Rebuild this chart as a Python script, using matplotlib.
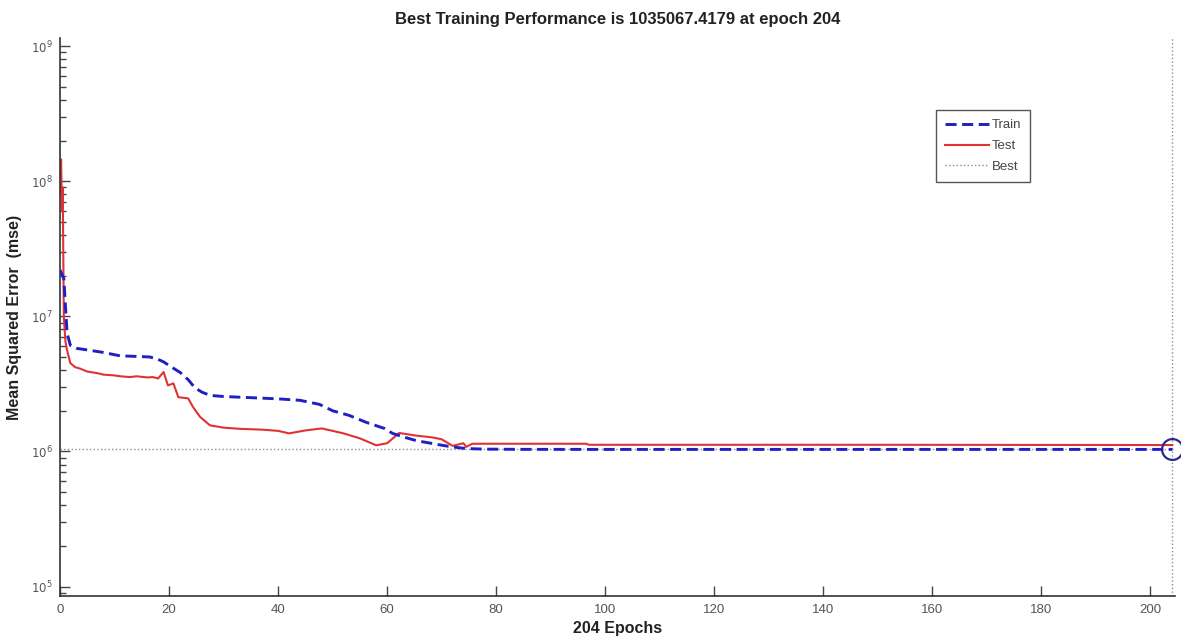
import matplotlib
matplotlib.use("Agg")
import matplotlib.pyplot as plt
from matplotlib.ticker import LogLocator, NullFormatter, FixedLocator

plt.rcParams['font.family'] = ['Liberation Sans', 'DejaVu Sans']

# ---- data ----
train_epochs = [0, 0.7, 1.3, 1.9, 3, 5.5, 8, 11, 14, 16.5, 18, 19, 20.5, 22, 23.5, 24.7, 26, 27.5,
                30, 35, 40, 44, 47.6, 50, 53, 56.2, 59.5, 61, 63, 65.4, 68, 70.1, 72,
                74.5, 78, 85, 100, 150, 204]
train_mse = [2.2e7, 1.9e7, 7.5e6, 6.1e6, 5.8e6, 5.6e6, 5.4e6, 5.1e6, 5.05e6, 5.0e6, 4.8e6, 4.6e6,
             4.2e6, 3.85e6, 3.4e6, 2.97e6, 2.75e6, 2.6e6,
             2.55e6, 2.5e6, 2.45e6, 2.39e6, 2.23e6, 2.0e6, 1.85e6, 1.64e6, 1.48e6, 1.36e6, 1.28e6,
             1.2e6, 1.15e6, 1.11e6, 1.08e6,
             1.05e6, 1.04e6, 1.036e6, 1.035e6, 1.035e6, 1.035067e6]

test_epochs = [0, 0.2, 0.35, 0.5, 0.7, 1.0, 1.3, 1.9, 2.8, 3.7, 5, 6.8, 8, 9.8, 11, 12.9, 14, 16, 17,
               18, 19, 19.8, 20.8, 21.7, 23.5, 24.4, 25.7, 27.5, 30, 33, 37, 40, 42, 45, 48, 50,
               52, 55, 58, 60, 62.2, 65.3, 68.3, 70, 72, 74, 74.5, 75.6, 80, 96.5, 97, 150, 204]
test_mse = [8.0e7, 1.45e8, 6.0e7, 9.0e7, 1.0e7, 6.5e6, 5.6e6, 4.5e6, 4.2e6, 4.1e6, 3.9e6, 3.8e6,
            3.7e6, 3.66e6, 3.6e6, 3.55e6, 3.6e6, 3.53e6, 3.55e6,
            3.47e6, 3.87e6, 3.08e6, 3.19e6, 2.52e6, 2.47e6, 2.13e6, 1.8e6, 1.56e6, 1.5e6, 1.47e6,
            1.45e6, 1.42e6, 1.36e6, 1.43e6, 1.48e6, 1.42e6,
            1.36e6, 1.25e6, 1.11e6, 1.15e6, 1.37e6, 1.31e6, 1.27e6, 1.23e6, 1.10e6, 1.15e6,
            1.08e6, 1.14e6, 1.14e6, 1.14e6, 1.12e6, 1.12e6, 1.115e6]

best_epoch = 204
best_perf = 1035067.4179

x_ticks = [0, 20, 40, 60, 80, 100, 120, 140, 160, 180, 200]
y_ticks = [1e5, 1e6, 1e7, 1e8, 1e9]
y_tick_labels = ['$10^5$', '$10^6$', '$10^7$', '$10^8$', '$10^9$']

title = f"Best Training Performance is {best_perf:.4f} at epoch {best_epoch}"

# ---- figure ----
W, H = 1181, 644
fig = plt.figure(figsize=(W / 100, H / 100), dpi=100)
ax = fig.add_axes([60 / W, 1 - 596 / H, (1175 - 60) / W, (596 - 38) / H])

blue = '#1f1fc4'
red = '#e03232'
bestc = '#8a8aa8'

ax.plot(train_epochs, train_mse, color=blue, lw=2.1, dashes=(3.8, 1.9), label='Train', zorder=3)
ax.plot(test_epochs, test_mse, color=red, lw=1.5, label='Test', zorder=2)
ax.axhline(best_perf, color=bestc, lw=1, ls=':', label='Best', zorder=1)
ax.axvline(best_epoch, color=bestc, lw=1, ls=':', zorder=1)
ax.plot([best_epoch], [best_perf], marker='o', ms=15, mfc='none', mec='#2a2a8a', mew=1.6,
        zorder=4, clip_on=False)

ax.set_yscale('log')
ax.set_xlim(0, 204.5)
ax.set_ylim(10 ** 4.93, 10 ** 9.06)

ax.xaxis.set_major_locator(FixedLocator(x_ticks))
ax.set_yticks(y_ticks)
ax.set_yticklabels(y_tick_labels)
ax.yaxis.set_minor_locator(LogLocator(base=10, subs=range(2, 10), numticks=20))
ax.yaxis.set_minor_formatter(NullFormatter())

for s in ['top', 'right']:
    ax.spines[s].set_visible(False)
for s in ['left', 'bottom']:
    ax.spines[s].set_color('#333333')
    ax.spines[s].set_linewidth(1.2)

ax.tick_params(axis='both', which='major', direction='in', length=7, width=1,
               colors='#444444', labelcolor='#555555')
ax.tick_params(axis='x', labelsize=9.5, pad=6)
ax.tick_params(axis='y', labelsize=8.5, pad=5)
ax.tick_params(axis='y', which='minor', direction='in', length=4, width=1, colors='#444444')

ax.set_title(title, fontsize=12, fontweight='bold', color='#222222', pad=10)
ax.set_xlabel('204 Epochs', fontsize=11.5, fontweight='bold', color='#222222', labelpad=3)
ax.set_ylabel('Mean Squared Error  (mse)', fontsize=11.5, fontweight='bold', color='#222222', labelpad=7)

leg = ax.legend(loc='upper left', bbox_to_anchor=(936 / W, 1 - 110 / H),
                bbox_transform=fig.transFigure, fancybox=False, framealpha=1,
                edgecolor='#555555', fontsize=9.5, handlelength=3.3, handletextpad=0.2,
                borderpad=0.7, labelspacing=0.65, borderaxespad=0)
for t in leg.get_texts():
    t.set_color('#444444')

fig.savefig('out.png', dpi=100)
